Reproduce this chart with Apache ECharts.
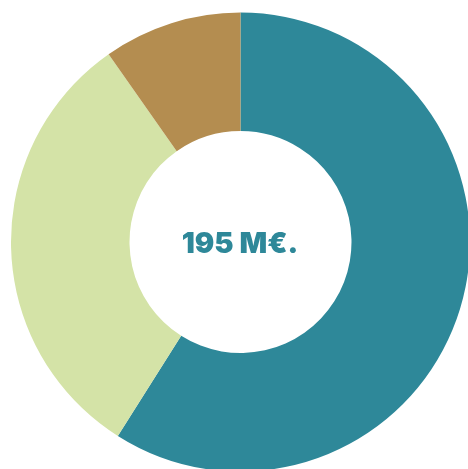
<!DOCTYPE html>
<html>
<head>
<meta charset="utf-8">
<script src="https://cdn.jsdelivr.net/npm/echarts@6/dist/echarts.min.js"></script>
<style>
  html, body { margin: 0; padding: 0; background: #fff; }
  #chart { width: 468px; height: 469px; }
</style>
</head>
<body>
<div id="chart"></div>
<script>
  // slices, clockwise from 12 o'clock
  const names = ['A', 'B', 'C'];
  const values = [115, 61, 19];
  const colors = ['#2e8899', '#d4e3a7', '#b48d50'];
  const totalLabel = '195 M€.';

  const chart = echarts.init(document.getElementById('chart'));
  chart.setOption({
    animation: false,
    graphic: [{
      type: 'text',
      x: 240,
      y: 244,
      style: {
        text: totalLabel,
        fontFamily: 'Inter',
        fontWeight: 900,
        fontSize: 29,
        fill: '#2e8899',
        align: 'center',
        verticalAlign: 'middle'
      }
    }],
    series: [{
      type: 'pie',
      center: [240.5, 242],
      radius: [111, 229.5],
      startAngle: 90,
      clockwise: true,
      label: { show: false },
      labelLine: { show: false },
      emphasis: { disabled: true },
      data: names.map((n, i) => ({
        name: n,
        value: values[i],
        itemStyle: { color: colors[i] }
      }))
    }]
  });
</script>
</body>
</html>
